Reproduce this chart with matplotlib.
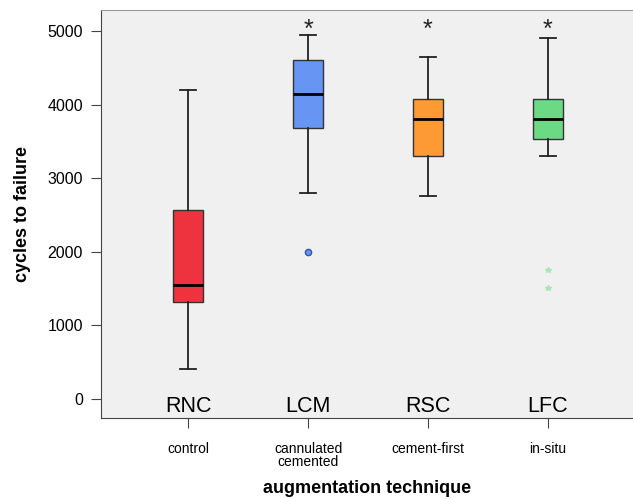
import matplotlib
matplotlib.use("Agg")
import matplotlib.pyplot as plt

plt.rcParams['font.family'] = ['Liberation Sans', 'DejaVu Sans']

# data
codes = ["RNC", "LCM", "RSC", "LFC"]
groups = ["control", "cannulated\ncemented", "cement-first", "in-situ"]
whisker_low = [400, 2800, 2750, 3300]
q1 = [1320, 3680, 3300, 3530]
median = [1550, 4150, 3800, 3800]
q3 = [2570, 4600, 4070, 4070]
whisker_high = [4200, 4950, 4650, 4900]
outliers = [[], [2000], [], [1750, 1500]]
significant = [False, True, True, True]
colors = ["#EE333F", "#6795F4", "#FE9A34", "#6CD984"]
outlier_marker = [None, "o", None, "*"]

fig = plt.figure(figsize=(6.33, 4.99), dpi=100)
ax = fig.add_axes([0.1596, 0.1623, 0.8404, 0.8177])
ax.set_facecolor("#F0F0F0")

stats = []
for i in range(len(codes)):
    stats.append({"whislo": whisker_low[i], "q1": q1[i], "med": median[i],
                  "q3": q3[i], "whishi": whisker_high[i], "fliers": []})

positions = list(range(1, len(codes) + 1))
bp = ax.bxp(stats, positions=positions, widths=0.25, patch_artist=True,
            showfliers=False,
            boxprops=dict(edgecolor="#333333", linewidth=1.0),
            medianprops=dict(color="black", linewidth=2.0),
            whiskerprops=dict(color="#222222", linewidth=1.3),
            capprops=dict(color="#222222", linewidth=1.3),
            capwidths=0.13)
for patch, c in zip(bp["boxes"], colors):
    patch.set_facecolor(c)

# outliers
for i, pts in enumerate(outliers):
    if not pts:
        continue
    if outlier_marker[i] == "o":
        ax.plot([positions[i]] * len(pts), pts, "o", color=colors[i],
                markeredgecolor="#3355AA", markersize=4.5)
    else:
        ax.plot([positions[i]] * len(pts), pts, "*", color="#A8E6B4",
                markeredgecolor="#A8E6B4", markersize=4)

# significance marks
for i, s in enumerate(significant):
    if s:
        ax.text(positions[i], 5010, "*", ha="center", va="center",
                fontsize=18, color="#222222")

# group codes inside the axes
for i, code in enumerate(codes):
    ax.text(positions[i], -110, code, ha="center", va="center", fontsize=15.5)

ax.set_xlim(0.273, 4.71)
ax.set_ylim(-263, 5286)
ax.set_yticks([0, 1000, 2000, 3000, 4000, 5000])
ax.set_xticks(positions)
ax.set_xticklabels(groups, fontsize=10, linespacing=0.9)
ax.tick_params(axis="y", labelsize=11.5, length=7, pad=6, color="#444444")
ax.tick_params(axis="x", length=7, color="#444444", pad=10)

ax.spines["right"].set_visible(False)
ax.spines["top"].set_color("#999999")
ax.spines["left"].set_color("#444444")
ax.spines["bottom"].set_color("#444444")

ax.set_ylabel("cycles to failure", fontsize=13, fontweight="bold", labelpad=12)
ax.set_xlabel("augmentation technique", fontsize=13, fontweight="bold", labelpad=8)

fig.savefig("out.png", dpi=100)
